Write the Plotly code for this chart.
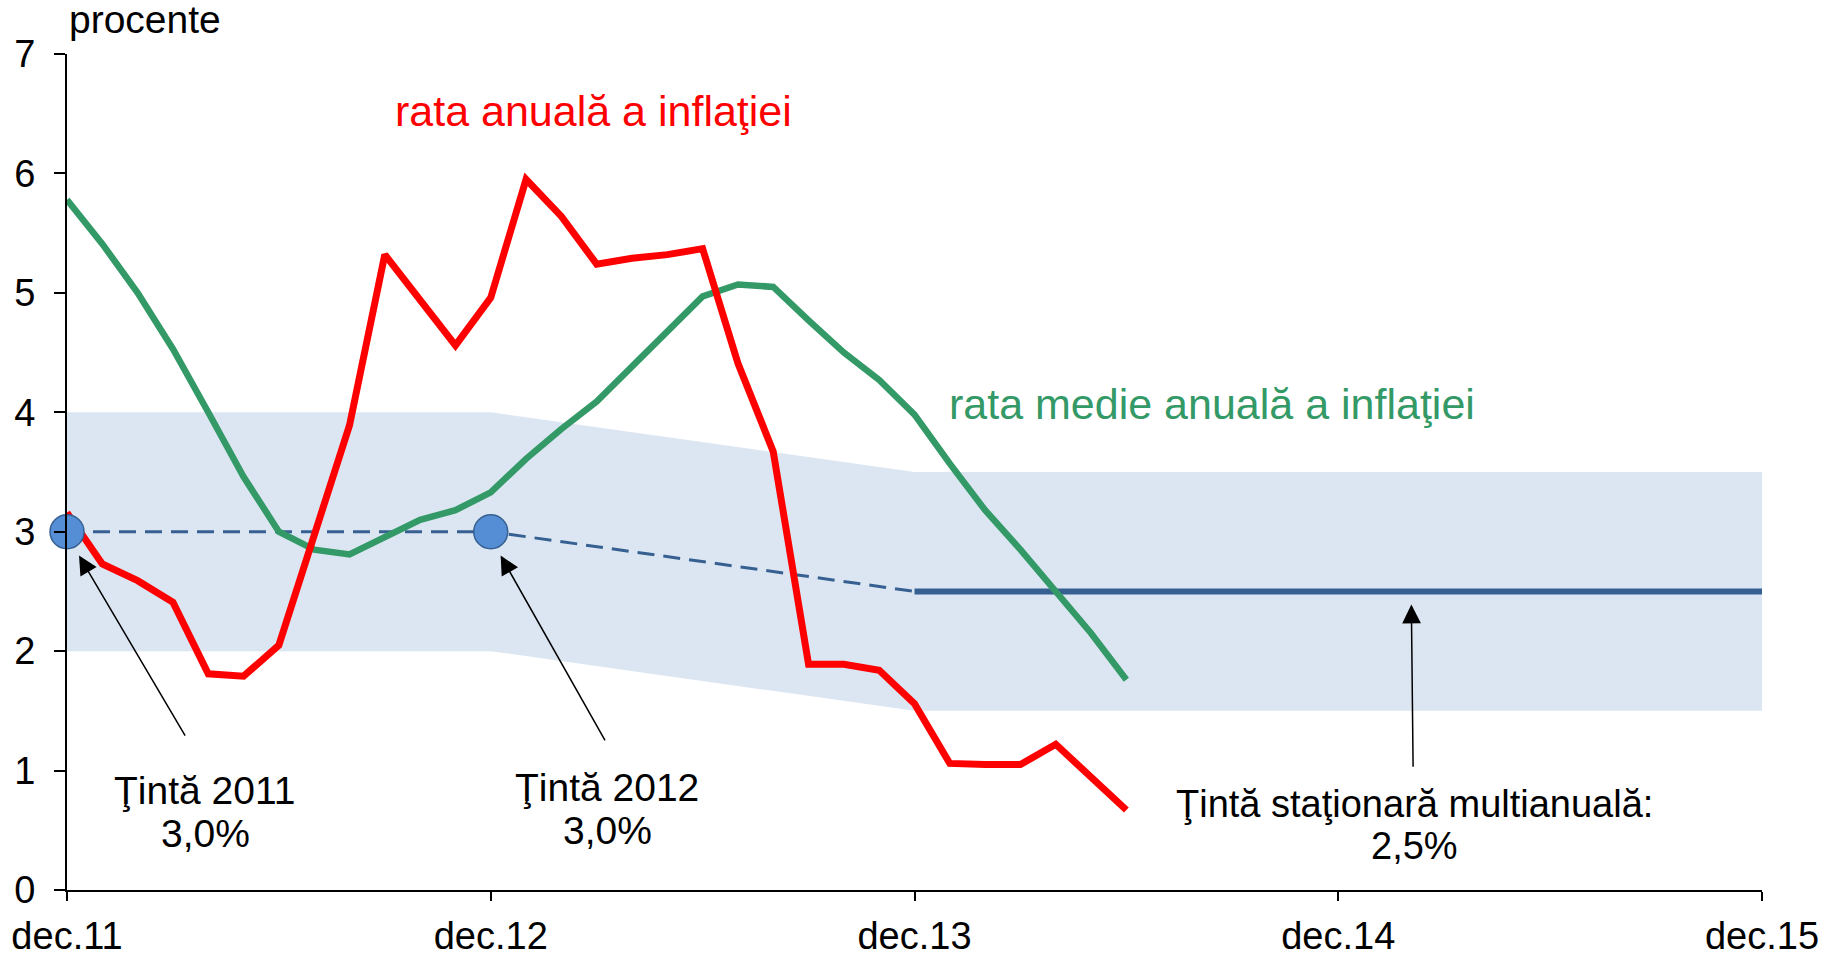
import plotly.graph_objects as go

# ---------------- data ----------------
x_tick_labels = ["dec.11", "dec.12", "dec.13", "dec.14", "dec.15"]
x_tick_months = [0, 12, 24, 36, 48]

# monthly values, dec.11 .. iun.14
rata_anuala = [3.16, 2.73, 2.59, 2.41, 1.81, 1.79, 2.05, 2.95, 3.89, 5.32,
               4.94, 4.56, 4.96, 5.95, 5.64, 5.24, 5.29, 5.32, 5.37, 4.41,
               3.67, 1.89, 1.89, 1.84, 1.56, 1.06, 1.05, 1.05, 1.22, 0.95,
               0.67]
rata_medie = [5.78, 5.41, 5.00, 4.53, 4.00, 3.46, 3.00, 2.85, 2.81, 2.96,
              3.10, 3.18, 3.33, 3.61, 3.86, 4.09, 4.38, 4.68, 4.97, 5.07,
              5.05, 4.77, 4.50, 4.27, 3.98, 3.57, 3.18, 2.85, 2.50, 2.15,
              1.76]

band_months = [0, 12, 24, 48]
band_lower = [2.0, 2.0, 1.5, 1.5]
band_upper = [4.0, 4.0, 3.5, 3.5]

target_path_months = [0, 12, 24]
target_path_values = [3.0, 3.0, 2.5]
target_points_months = [0, 12]
target_points_values = [3.0, 3.0]
stationary_months = [24, 48]
stationary_values = [2.5, 2.5]

months = list(range(len(rata_anuala)))

RED = "#FF0000"
GREEN = "#339966"
BAND = "#DCE6F2"
DARKBLUE = "#376092"
MARKER = "#558ED5"
FONT = "Liberation Sans, Arial, sans-serif"

fig = go.Figure()

# tolerance band
fig.add_trace(go.Scatter(x=band_months, y=band_lower, mode="lines",
                         line=dict(width=0, color=BAND), hoverinfo="skip"))
fig.add_trace(go.Scatter(x=band_months, y=band_upper, mode="lines",
                         line=dict(width=0, color=BAND), fill="tonexty",
                         fillcolor=BAND, hoverinfo="skip"))

# target path (dashed) and stationary target (solid)
fig.add_trace(go.Scatter(x=target_path_months, y=target_path_values, mode="lines",
                         line=dict(color=DARKBLUE, width=3, dash="17px,9px")))
fig.add_trace(go.Scatter(x=stationary_months, y=stationary_values, mode="lines",
                         line=dict(color=DARKBLUE, width=6)))

# series
fig.add_trace(go.Scatter(x=months, y=rata_medie, mode="lines",
                         line=dict(color=GREEN, width=6.5)))
fig.add_trace(go.Scatter(x=months, y=rata_anuala, mode="lines",
                         line=dict(color=RED, width=7)))

# target markers
fig.add_trace(go.Scatter(x=target_points_months, y=target_points_values, mode="markers",
                         marker=dict(size=34, color=MARKER,
                                     line=dict(color=DARKBLUE, width=1.5)),
                         cliponaxis=False))

annotations = []

# arrows
def arrow(tip_x, tip_y, tail_x, tail_y):
    annotations.append(dict(x=tip_x, y=tip_y, ax=tail_x, ay=tail_y,
                            xref="x", yref="y", axref="x", ayref="y",
                            text="", showarrow=True, arrowhead=2, arrowsize=2.5,
                            arrowwidth=1.5, arrowcolor="black", standoff=0,
                            startstandoff=0))

arrow(0.34, 2.80, 3.37, 1.28)
arrow(12.28, 2.80, 15.26, 1.24)
arrow(38.07, 2.39, 38.12, 1.02)

def text(x, y, s, color="black", size=39, xanchor="center"):
    annotations.append(dict(x=x, y=y, xref="x", yref="y", text=s, showarrow=False,
                            xanchor=xanchor, yanchor="middle",
                            font=dict(family=FONT, size=size, color=color)))

text(3.90, 0.83, "Ţintă 2011")
text(3.92, 0.47, "3,0%")
text(15.3, 0.86, "Ţintă 2012")
text(15.3, 0.50, "3,0%")
text(38.15, 0.72, "Ţintă staţionară multianuală:", size=38)
text(38.15, 0.37, "2,5%", size=38)

text(9.23, 6.52, "rata anuală a inflaţiei", color=RED, size=43, xanchor="left")
text(24.92, 4.07, "rata medie anuală a inflaţiei", color=GREEN, size=43, xanchor="left")

annotations.append(dict(x=0.0, y=1.041, xref="paper", yref="paper",
                        text="procente", showarrow=False, xanchor="left",
                        yanchor="middle",
                        font=dict(family=FONT, size=39, color="black")))

fig.update_layout(
    width=1835, height=954,
    margin=dict(l=67, r=73, t=54, b=64, autoexpand=False),
    paper_bgcolor="white", plot_bgcolor="white",
    showlegend=False,
    font=dict(family=FONT, size=38, color="black"),
    annotations=annotations,
    xaxis=dict(range=[0, 48], tickvals=x_tick_months, ticktext=x_tick_labels,
               showgrid=False, zeroline=False, showline=True, linecolor="black",
               linewidth=2, ticks="outside", ticklen=9, tickwidth=2,
               tickcolor="black", ticklabelstandoff=2, automargin=False,
               tickfont=dict(family=FONT, size=38, color="black")),
    yaxis=dict(range=[0, 7], dtick=1, showgrid=False, zeroline=False,
               showline=True, linecolor="black", linewidth=2, ticks="outside",
               ticklen=11, tickwidth=2, tickcolor="black", ticklabelstandoff=11,
               automargin=False,
               tickfont=dict(family=FONT, size=38, color="black")),
)

# remove the default page margin so the 1835x954 figure fills the window exactly
fig.write_html("out.html",
               config={"displayModeBar": False},
               post_script="document.body.style.margin='0';"
                           "document.body.style.overflow='hidden';")
